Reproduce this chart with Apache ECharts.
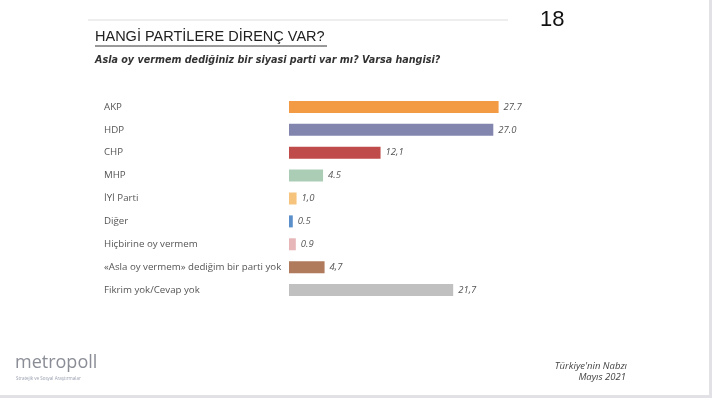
<!DOCTYPE html>
<html>
<head>
<meta charset="utf-8">
<script src="https://cdn.jsdelivr.net/npm/echarts@6/dist/echarts.min.js"></script>
<style>
  html, body { margin: 0; padding: 0; background: #fff; }
  #chart { width: 712px; height: 398px; }
</style>
</head>
<body>
<div id="chart"></div>
<script>
// kategoriler ve değerler
const categories = [
  'AKP', 'HDP', 'CHP', 'MHP', 'İYİ Parti', 'Diğer',
  'Hiçbirine oy vermem', '«Asla oy vermem» dediğim bir parti yok', 'Fikrim yok/Cevap yok'
];
const values = [27.7, 27.0, 12.1, 4.5, 1.0, 0.5, 0.9, 4.7, 21.7];
// etiketler görseldeki gibi (nokta/virgül karışık)
const valueLabels = ['27.7', '27.0', '12,1', '4.5', '1,0', '0.5', '0.9', '4,7', '21,7'];
const barColors = [
  '#f39a45', '#8286ae', '#c04b4b', '#abcdb6', '#f6c47c',
  '#5b8fca', '#e7b6b9', '#b07a5d', '#c0c0c0'
];

const chart = echarts.init(document.getElementById('chart'));

const option = {
  animation: false,
  backgroundColor: '#fff',
  grid: { left: 289, right: 196, top: 95.5, bottom: 96.5 },
  xAxis: {
    type: 'value',
    min: 0,
    max: 30,
    show: false
  },
  yAxis: {
    type: 'category',
    inverse: true,
    data: categories,
    axisLine: { show: false },
    axisTick: { show: false },
    axisLabel: {
      align: 'left',
      margin: 185,
      color: '#555',
      fontSize: 9.7,
      fontFamily: 'Open Sans'
    }
  },
  series: [
    {
      type: 'bar',
      barWidth: 12,
      data: values.map((v, i) => ({ value: v, itemStyle: { color: barColors[i] } })),
      label: {
        show: true,
        position: 'right',
        distance: 5,
        color: '#555',
        fontSize: 9.5,
        fontStyle: 'italic',
        fontFamily: 'Open Sans',
        formatter: (p) => valueLabels[p.dataIndex]
      }
    }
  ],
  graphic: [
    // üst çizgi
    { type: 'line', shape: { x1: 88, y1: 20, x2: 508, y2: 20 }, style: { stroke: '#ddd', lineWidth: 1 } },
    { type: 'text', left: 540, top: 9, style: { text: '18', fontSize: 22, fill: '#111', fontFamily: 'Liberation Sans' } },
    { type: 'text', left: 95, top: 29, style: { text: 'HANGİ PARTİLERE DİRENÇ VAR?', fontSize: 14.5, fill: '#222', fontFamily: 'Liberation Sans' } },
    { type: 'line', shape: { x1: 95, y1: 46, x2: 327, y2: 46 }, style: { stroke: '#333', lineWidth: 1 } },
    { type: 'text', left: 95, top: 55, style: { text: 'Asla oy vermem dediğiniz bir siyasi parti var mı? Varsa hangisi?', fontSize: 9.6, fontWeight: 'bold', fontStyle: 'italic', fill: '#333', fontFamily: 'DejaVu Sans' } },
    // logo
    { type: 'text', left: 15, top: 354, style: { text: 'metropoll', fontSize: 18, fill: '#8a8d95', fontFamily: 'Open Sans' } },
    { type: 'text', left: 16, top: 376, style: { text: 'Stratejik ve Sosyal Araştırmalar', fontSize: 4.5, fill: '#9aa0b0', fontFamily: 'Open Sans' } },
    // kaynak
    { type: 'text', right: 85, top: 361, style: { text: "Türkiye'nin Nabzı", fontSize: 9.5, fontStyle: 'italic', fill: '#444', fontFamily: 'Open Sans', align: 'right' } },
    { type: 'text', right: 86, top: 372, style: { text: 'Mayıs 2021', fontSize: 9.5, fontStyle: 'italic', fill: '#444', fontFamily: 'Open Sans', align: 'right' } },
    // kenarlar
    { type: 'rect', shape: { x: 709, y: 0, width: 3, height: 398 }, style: { fill: '#e2e2e6' } },
    { type: 'rect', shape: { x: 0, y: 395, width: 712, height: 3 }, style: { fill: '#e2e2e6' } }
  ]
};

chart.setOption(option);
</script>
</body>
</html>
